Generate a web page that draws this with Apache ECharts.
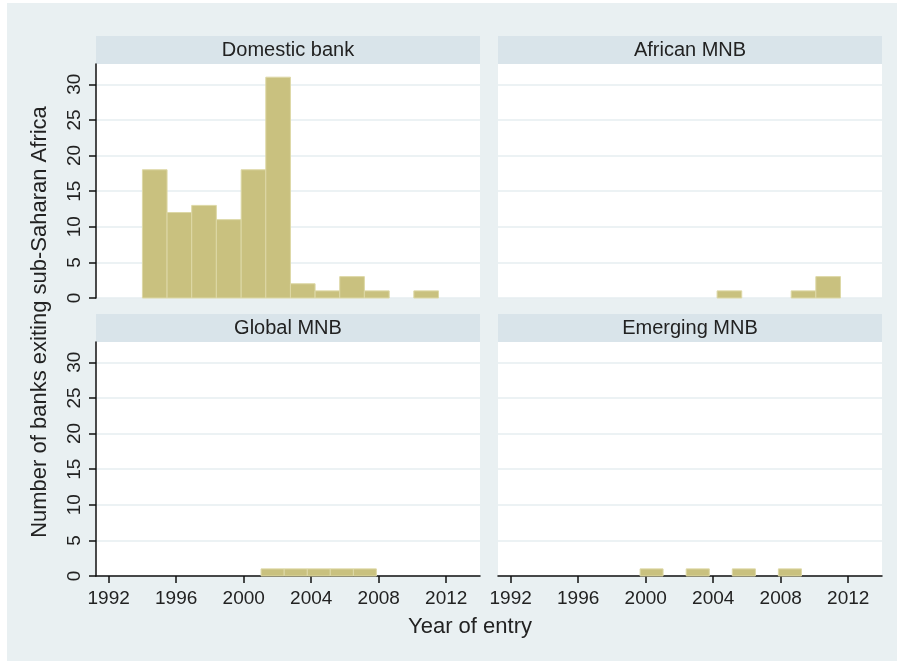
<!DOCTYPE html>
<html>
<head>
<meta charset="utf-8">
<script src="https://cdn.jsdelivr.net/npm/echarts@6/dist/echarts.min.js"></script>
<style>
  html, body { margin: 0; padding: 0; background: #fff; }
  #chart { width: 904px; height: 661px; }
</style>
</head>
<body>
<div id="chart"></div>
<script>
// bin edges (top row and bottom row use different bins)
const topEdges = [1994, 1995.46, 1996.92, 1998.38, 1999.85, 2001.31, 2002.77, 2004.23, 2005.69, 2007.15, 2008.62, 2010.08, 2011.54, 2013.0]
const bottomEdges = [1999.67, 2001.03, 2002.40, 2003.77, 2005.13, 2006.50, 2007.86, 2009.23]

const domestic = [18, 12, 13, 11, 18, 31, 2, 1, 3, 1, 0, 1, 0]
const african = [0, 0, 0, 0, 0, 0, 0, 1, 0, 0, 1, 3, 0]
const global = [0, 1, 1, 1, 1, 1, 0]
const emerging = [1, 0, 1, 0, 1, 0, 1]

const panelTitles = ['Domestic bank', 'African MNB', 'Global MNB', 'Emerging MNB']
const yearTicks = [1992, 1996, 2000, 2004, 2008, 2012]
const countTicks = [0, 5, 10, 15, 20, 25, 30]

const FONT = 'Liberation Sans, Arial, sans-serif'
const BAR = '#c9c17f'
const BAR_EDGE = '#ddd8a6'

const panels = [
  { edges: topEdges, counts: domestic, left: 96, top: 64, yAxis: true, xAxis: false },
  { edges: topEdges, counts: african, left: 498, top: 64, yAxis: false, xAxis: false },
  { edges: bottomEdges, counts: global, left: 96, top: 342, yAxis: true, xAxis: true },
  { edges: bottomEdges, counts: emerging, left: 498, top: 342, yAxis: false, xAxis: true }
]
const W = 384
const H = 234
const STRIP = 28

const toBins = (edges, counts) => {
  const out = []
  counts.forEach((c, i) => {
    if (c > 0) out.push([edges[i], edges[i + 1], c])
  })
  return out
}

const renderBar = (params, api) => {
  const p0 = api.coord([api.value(0), api.value(2)])
  const p1 = api.coord([api.value(1), 0])
  return {
    type: 'rect',
    shape: { x: p0[0], y: p0[1], width: p1[0] - p0[0], height: p1[1] - p0[1] },
    style: { fill: BAR, stroke: BAR_EDGE, lineWidth: 1 }
  }
}

const graphics = [
  { type: 'rect', shape: { x: 7, y: 3, width: 890, height: 658 }, style: { fill: '#e9f0f2' }, z: -10 }
]
panels.forEach((p, i) => {
  graphics.push({
    type: 'rect',
    shape: { x: p.left, y: p.top - STRIP, width: W, height: STRIP },
    style: { fill: '#d9e4ea' }
  })
  graphics.push({
    type: 'text',
    x: p.left + W / 2,
    y: p.top - STRIP / 2,
    style: { text: panelTitles[i], font: '20px ' + FONT, fill: '#222', align: 'center', verticalAlign: 'middle' }
  })
})
graphics.push({
  type: 'text', x: 470, y: 627,
  style: { text: 'Year of entry', font: '22px ' + FONT, fill: '#222', align: 'center', verticalAlign: 'middle' }
})
graphics.push({
  type: 'text', x: 40, y: 322, rotation: Math.PI / 2,
  style: { text: 'Number of banks exiting sub-Saharan Africa', font: '22px ' + FONT, fill: '#222', align: 'center', verticalAlign: 'middle' }
})

const plain = v => String(v)

const option = {
  backgroundColor: 'transparent',
  animation: false,
  graphic: graphics,
  grid: panels.map(p => ({
    left: p.left, top: p.top, width: W, height: H,
    show: true, backgroundColor: '#fff', borderWidth: 0
  })),
  xAxis: panels.map((p, i) => ({
    type: 'value', gridIndex: i, min: 1991.25, max: 2014,
    axisLine: { show: p.xAxis, onZero: false, lineStyle: { color: '#111', width: 1.5 } },
    axisTick: { show: p.xAxis, customValues: yearTicks, length: 7, lineStyle: { color: '#111', width: 1.5 } },
    axisLabel: { show: p.xAxis, customValues: yearTicks, formatter: plain, margin: 13, fontSize: 19, fontFamily: FONT, color: '#222' },
    splitLine: { show: false }
  })),
  yAxis: panels.map((p, i) => ({
    type: 'value', gridIndex: i, min: 0, max: 32.85, interval: 5,
    axisLine: { show: p.yAxis, lineStyle: { color: '#111', width: 1.5 } },
    axisTick: { show: p.yAxis, customValues: countTicks, length: 7, lineStyle: { color: '#111', width: 1.5 } },
    axisLabel: { show: p.yAxis, customValues: countTicks, formatter: plain, rotate: 90, margin: 12, fontSize: 19, fontFamily: FONT, color: '#222' },
    splitLine: { show: true, lineStyle: { color: '#e6eef1', width: 1.5 } }
  })),
  series: panels.map((p, i) => ({
    type: 'custom',
    xAxisIndex: i,
    yAxisIndex: i,
    renderItem: renderBar,
    encode: { x: [0, 1], y: 2 },
    data: toBins(p.edges, p.counts)
  }))
}

const chart = echarts.init(document.getElementById('chart'))
chart.setOption(option)
</script>
</body>
</html>
